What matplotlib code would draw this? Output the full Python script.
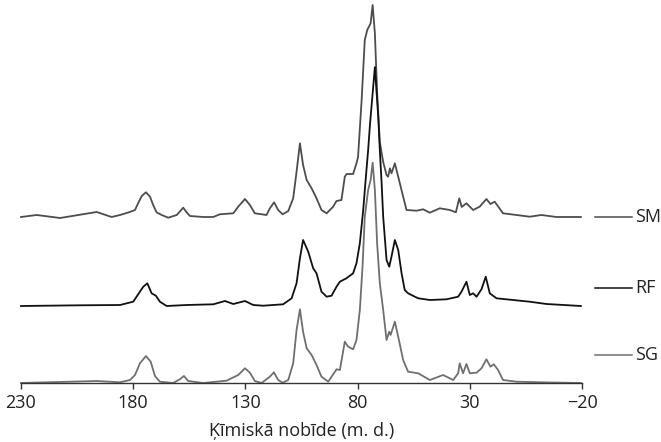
import matplotlib
matplotlib.use("Agg")
import matplotlib.pyplot as plt
import numpy as np

plt.rcParams['font.family'] = ['Open Sans', 'DejaVu Sans']

# Chemical shift (ppm) and intensity for each 13C CP/MAS spectrum
sm_ppm = [230, 223.0, 212.6, 196.3, 189.6, 185.9, 182.2, 179.2, 177.8, 176.2,
          174.3, 172.5, 171.1, 169.6, 167.3, 164.4, 160.6, 157.7, 156.2, 154.7,
          148.8, 144.3, 141.4, 135.4, 133.2, 130.2, 128.0, 125.8, 120.6, 119.1,
          117.2, 115.4, 113.4, 110.9, 108.7, 107.2, 105.7, 104.3, 102.7, 100.5,
          98.3, 96.1, 93.8, 90.9, 89.4, 87.2, 85.7, 84.9, 82.0, 80.5,
          79.8, 78.2, 76.8, 75.7, 74.2, 73.3, 72.3, 71.3, 70.1, 68.6,
          67.1, 66.4, 65.6, 64.9, 63.4, 61.9, 59.7, 58.2, 53.7, 50.8,
          47.8, 43.4, 38.9, 36.2, 34.7, 33.6, 31.5, 28.5, 25.6, 22.6,
          20.8, 18.9, 15.2, 9.2, 3.3, -1.9, -8.6, -19.5]
sm_int = [0, 2, -1, 5, 0, 2, 4.5, 7, 13.7, 21,
          24.7, 20.3, 12, 4.7, 2, -0.7, 2, 9.3, 4.7, 1,
          0, 0, 2.7, 3.7, 10.3, 18, 12, 3.7, 2, 8.7,
          14.7, 7, 2.7, 6, 18.7, 45.3, 73.7, 52, 37, 28.7,
          18.7, 7, 3.7, 10.3, 16, 17, 40.3, 43, 43, 53.7,
          60, 117, 177, 187, 193.7, 212, 183.7, 125, 75, 55,
          42, 40.3, 48.7, 43.7, 53.7, 40.3, 20.3, 7, 6.3, 7.7,
          4.3, 8.7, 7, 4.7, 18.7, 10, 13.7, 7, 10.3, 18,
          13, 15.3, 3.7, 2, 0.3, 2, 0, 0]

rf_ppm = [230, 203.7, 185.9, 180.0, 177.0, 175.5, 173.7, 171.8, 169.9, 168.1,
          165.1, 156.2, 144.3, 139.1, 135.4, 130.2, 126.5, 122.1, 113.2, 109.4,
          107.2, 105.7, 104.3, 102.0, 99.8, 98.3, 96.1, 93.8, 91.6, 89.4,
          87.9, 85.0, 82.0, 80.5, 79.0, 77.5, 76.3, 75.3, 74.5, 72.3,
          70.8, 70.1, 69.3, 68.6, 67.1, 65.9, 64.9, 63.4, 61.9, 60.4,
          59.0, 57.5, 56.0, 53.0, 47.8, 40.4, 35.2, 33.7, 31.5, 30.0,
          28.5, 27.0, 24.8, 22.9, 21.1, 18.1, 10.7, 3.3, -4.2, -19.5]
rf_int = [0, 0.7, 1, 4.3, 14.3, 19.3, 22.7, 12.7, 10.3, 4.3,
          0, 1, 1.7, 5, 2, 5, 1, 0.3, 1.7, 7.7,
          22.7, 47.7, 66, 54.3, 37.7, 32.7, 14.3, 9.3, 10.3, 19.3,
          24.3, 27.7, 32.7, 42.7, 62.7, 96, 129.3, 156, 181, 239,
          189, 156, 123, 89.3, 46, 39.3, 49.3, 66, 56, 32.7,
          16, 12.7, 11, 7.7, 6, 6.7, 9.3, 14.3, 24.3, 11,
          12.7, 9.3, 16.7, 29.3, 12.7, 7.7, 6, 4.3, 2, 0]

sg_ppm = [230, 196.3, 185.9, 181.4, 179.2, 177.0, 174.3, 172.2, 170.3, 168.1,
          162.2, 159.2, 157.4, 155.5, 148.8, 138.4, 133.2, 130.2, 128.0, 125.8,
          122.8, 119.1, 117.3, 115.4, 113.4, 110.9, 108.7, 107.2, 105.7, 104.3,
          102.7, 100.5, 98.3, 96.1, 93.1, 89.4, 87.9, 85.7, 84.2, 82.0,
          80.5, 79.0, 77.8, 76.8, 75.3, 74.2, 73.3, 72.3, 71.3, 70.1,
          68.6, 67.1, 65.9, 65.3, 63.4, 61.9, 59.7, 57.5, 53.0, 47.8,
          41.9, 37.4, 35.2, 34.5, 33.0, 31.5, 30.0, 27.0, 24.8, 22.6,
          20.8, 19.3, 17.4, 15.2, 9.2, -5.6, -19.5]
sg_int = [0, 2, 0.7, 3, 8, 19.7, 27, 21.3, 7, 1.3,
          0, 3.7, 7, 2, 0, 2.3, 8, 14.7, 10.3, 2,
          0, 6.3, 10.7, 3, 0.3, 3, 19.7, 53, 73.7, 51.3,
          34.7, 28, 18, 6.3, 1.3, 13.7, 13, 41.3, 36.3, 33.7,
          43, 73, 116.3, 166.3, 193, 203, 220.3, 193, 139.7, 99.7,
          73, 43, 51.3, 48, 61.3, 46.3, 23, 11.3, 9.7, 3,
          8, 3, 9.7, 19.7, 9.7, 19, 9.7, 10.3, 14.7, 23.7,
          16.3, 18.7, 13, 3, 1.3, 0.5, 0]

labels = ["SM", "RF", "SG"]
offsets = [166, 77, 0]
label_y = [166, 95, 28]
colors = ["#4d4d4d", "#111111", "#6f6f6f"]
xticks = [230, 180, 130, 80, 30, -20]

fig = plt.figure(figsize=(6.61, 4.42), dpi=100)
ax = fig.add_axes([21 / 661, 59 / 442, 561 / 661, 383 / 442])

series = [(sm_ppm, sm_int), (rf_ppm, rf_int), (sg_ppm, sg_int)]
for (x, y), off, c, lab, ly in zip(series, offsets, colors, labels, label_y):
    ax.plot(x, np.asarray(y) + off, color=c, lw=1.3, clip_on=False,
            solid_joinstyle="round")
    # label key on the right side
    ax.plot([1.0234, 1.0893], [ly, ly], color=c, lw=1.1, clip_on=False,
            transform=ax.get_yaxis_transform())
    ax.text(1.095, ly, lab, color="#222222", fontsize=13, va="center", ha="left",
            transform=ax.get_yaxis_transform())

ax.set_xlim(230, -20)
ax.set_ylim(0, 383)
for s in ["left", "right", "top"]:
    ax.spines[s].set_visible(False)
ax.spines["bottom"].set_color("#333333")
ax.spines["bottom"].set_linewidth(1.0)
ax.set_yticks([])
ax.set_xticks(xticks)
ax.set_xticklabels([str(t).replace("-", "\u2212") for t in xticks])
ax.tick_params(axis="x", length=4, width=1.0, color="#333333", labelsize=13,
               labelcolor="#222222", pad=4)
ax.set_xlabel("Ķīmiskā nobīde (m. d.)", fontsize=13, color="#222222", labelpad=7)
ax.patch.set_alpha(0)

fig.savefig("out.png", dpi=100)
